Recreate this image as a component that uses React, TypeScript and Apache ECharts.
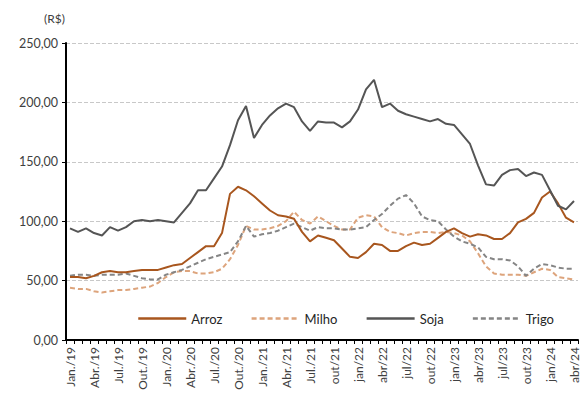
import React, { useEffect, useRef } from "react";
import * as echarts from "echarts";

const categories: string[] = [
  "Jan./19", "Fev./19", "Mar./19", "Abr./19", "Mai./19", "Jun./19", "Jul./19", "Ago./19", "Set./19", "Out./19", "Nov./19", "Dez./19",
  "Jan./20", "Fev./20", "Mar./20", "Abr./20", "Mai./20", "Jun./20", "Jul./20", "Ago./20", "Set./20", "Out./20", "Nov./20", "Dez./20",
  "Jan./21", "Fev./21", "Mar./21", "Abr./21", "Mai./21", "Jun./21", "Jul./21", "Ago./21", "Set./21", "out/21", "nov/21", "dez/21",
  "jan/22", "fev/22", "mar/22", "abr/22", "mai/22", "jun/22", "jul/22", "ago/22", "set/22", "out/22", "nov/22", "dez/22",
  "jan/23", "fev/23", "mar/23", "abr/23", "mai/23", "jun/23", "jul/23", "ago/23", "set/23", "out/23", "nov/23", "dez/23",
  "jan/24", "fev/24", "mar/24", "abr/24",
];

const arroz: number[] = [
  53, 53, 52, 54, 57, 58, 57, 57, 58, 59, 59, 59,
  61, 63, 64, 69, 74, 79, 79, 90, 123, 129, 126, 121,
  115, 109, 105, 104, 102, 91, 83, 88, 86, 84, 77, 70,
  69, 74, 81, 80, 75, 75, 79, 82, 80, 81, 86, 91,
  94, 90, 87, 89, 88, 85, 85, 90, 99, 102, 107, 120,
  125, 115, 103, 99,
];

const milho: number[] = [
  44, 43, 43, 41, 40, 41, 42, 42, 43, 44, 45, 48,
  53, 57, 58, 58, 56, 56, 57, 60, 68, 80, 96, 93,
  93, 94, 96, 100, 108, 101, 98, 104, 100, 96, 93, 93,
  103, 105, 104, 95, 91, 90, 88, 90, 91, 91, 90, 91,
  90, 88, 83, 73, 62, 56, 55, 55, 55, 54, 57, 60,
  59, 53, 52, 51,
];

const soja: number[] = [
  94, 91, 94, 90, 88, 95, 92, 95, 100, 101, 100, 101,
  100, 99, 107, 115, 126, 126, 136, 146, 164, 185, 197, 170,
  181, 189, 195, 199, 196, 184, 176, 184, 183, 183, 179, 184,
  194, 211, 219, 196, 199, 193, 190, 188, 186, 184, 186, 182,
  181, 173, 165, 147, 131, 130, 139, 143, 144, 138, 141, 139,
  126, 113, 110, 117,
];

const trigo: number[] = [
  54, 55, 55, 54, 55, 55, 55, 56, 54, 52, 51, 51,
  55, 57, 59, 62, 65, 68, 70, 72, 74, 83, 96, 87,
  89, 90, 92, 95, 98, 95, 92, 95, 94, 94, 93, 93,
  94, 95, 101, 106, 113, 119, 122, 115, 104, 101, 100, 93,
  87, 83, 81, 78, 70, 68, 68, 67, 62, 54, 60, 64,
  63, 61, 60, 60,
];

const FONT = "Lato, 'Open Sans', sans-serif";

export default function App() {
  const ref = useRef<HTMLDivElement>(null);

  useEffect(() => {
    if (!ref.current) return;
    const chart = echarts.init(ref.current, undefined, { renderer: "svg" });
    const mk = (name: string, data: number[], color: string, dashed: boolean) => ({
      name,
      type: "line",
      data,
      symbol: "none",
      showSymbol: false,
      lineStyle: { color, width: 2, type: dashed ? [5, 3] : "solid" },
      itemStyle: { color },
      z: dashed ? 2 : 3,
    });
    chart.setOption({
      animation: false,
      textStyle: { fontFamily: FONT },
      grid: { left: 66, right: 3, top: 43, bottom: 56, containLabel: false },
      title: {
        text: "(R$)",
        left: 39,
        top: 7,
        textStyle: { fontSize: 12, fontWeight: "normal", color: "#404040", fontFamily: FONT },
      },
      legend: {
        left: 137,
        top: 312,
        padding: 0,
        itemWidth: 48,
        itemHeight: 14,
        itemGap: 28,
        itemStyle: { opacity: 0 },
        lineStyle: { width: 2.5 },
        textStyle: { fontSize: 13, color: "#262626", fontFamily: FONT },
        data: ["Arroz", "Milho", "Soja", "Trigo"],
      },
      xAxis: {
        type: "category",
        data: categories,
        boundaryGap: true,
        axisLine: { lineStyle: { color: "#000", width: 2 } },
        axisTick: { show: true, interval: 0, length: 4, lineStyle: { color: "#000" } },
        axisLabel: {
          interval: 2,
          rotate: 90,
          fontSize: 12,
          color: "#404040",
          margin: 7,
          fontFamily: FONT,
        },
        splitLine: { show: false },
      },
      yAxis: {
        type: "value",
        min: 0,
        max: 250,
        interval: 50,
        axisLine: { show: true, lineStyle: { color: "#000", width: 2 } },
        axisTick: { show: true, length: 4, lineStyle: { color: "#000" } },
        axisLabel: {
          fontSize: 12.5,
          color: "#404040",
          margin: 8,
          fontFamily: FONT,
          formatter: (v: number) => v.toFixed(2).replace(".", ","),
        },
        splitLine: { show: true, lineStyle: { color: "#c8c8c8", type: "dashed", width: 1 } },
      },
      series: [
        mk("Arroz", arroz, "#A8561E", false),
        mk("Milho", milho, "#DDA47C", true),
        mk("Soja", soja, "#555555", false),
        mk("Trigo", trigo, "#858585", true),
      ],
    });
    return () => chart.dispose();
  }, []);

  return <div ref={ref} style={{ width: 581, height: 396, position: "absolute", left: 0, top: 0 }} />;
}
